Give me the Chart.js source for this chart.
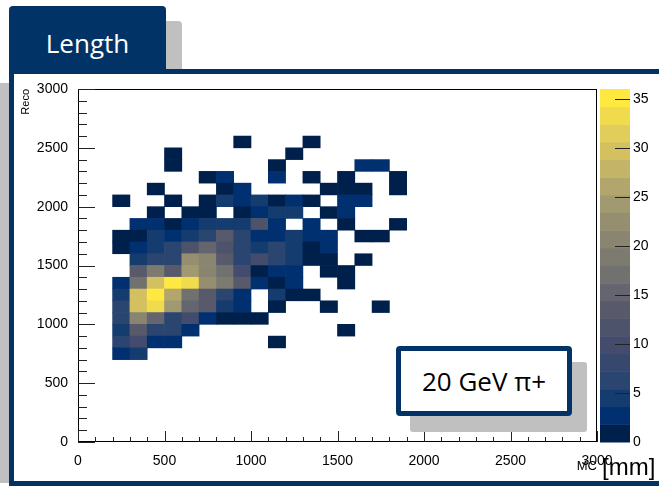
<!DOCTYPE html>
<html>
<head>
<meta charset="utf-8">
<script src="https://cdn.jsdelivr.net/npm/chart.js@4.4.0/dist/chart.umd.min.js"></script>
<style>
  html, body { margin: 0; padding: 0; background: #fff; }
  body { position: relative; width: 659px; height: 493px; overflow: hidden; }
  .abs { position: absolute; box-sizing: border-box; }
  #tabShadow { left: 25px; top: 21px; width: 157px; height: 60px; background: #c0c0c0; border-radius: 4px 4px 0 0; }
  #tab { left: 9px; top: 6px; width: 157px; height: 66px; background: #023366; border-radius: 4px 4px 0 0;
         color: #fff; font: 26px "Open Sans", sans-serif; text-align: center; line-height: 74px; }
  #frameShadow { left: 0; top: 83px; width: 9px; height: 400px; background: #c0c0c0; }
  #frame { left: 9px; top: 69px; width: 700px; height: 417px; border: 5px solid #023366; background: #fff; }
  #chart { position: absolute; left: 0; top: 0; }
  #boxShadow { left: 410px; top: 362px; width: 177px; height: 70px; background: #c0c0c0; border-radius: 3px; }
  #box { left: 396px; top: 346px; width: 176px; height: 70px; border: 5px solid #023366; border-radius: 4px; background: #fff;
         font: 26px "Open Sans", sans-serif; color: #000; text-align: center; line-height: 60px; }
  #unit { left: 602px; top: 453px; font: 24px "Liberation Sans", Arial, sans-serif; color: #000; line-height: 28px; }
</style>
</head>
<body>
<div id="tabShadow" class="abs"></div>
<div id="tab" class="abs">Length</div>
<div id="frameShadow" class="abs"></div>
<div id="frame" class="abs"></div>
<canvas id="chart" width="659" height="493"></canvas>
<div id="boxShadow" class="abs"></div>
<div id="box" class="abs">20 GeV π+</div>
<div id="unit" class="abs">[mm]</div>
<script>
// 2D histogram: MC length (x) vs reco length (y), 100 mm bins
const xCenters = [250, 350, 450, 550, 650, 750, 850, 950, 1050, 1150, 1250, 1350, 1450, 1550, 1650, 1750, 1850];
const yCenters = [2550, 2450, 2350, 2250, 2150, 2050, 1950, 1850, 1750, 1650, 1550, 1450, 1350, 1250, 1150, 1050, 950, 850, 750];
// one row per y bin (top to bottom), one entry per x bin
const counts = [
  [0, 0, 0, 0, 0, 0, 0, 1, 0, 0, 0, 1, 0, 0, 0, 0, 0],
  [0, 0, 0, 1, 0, 0, 0, 0, 0, 0, 1, 0, 0, 0, 0, 0, 0],
  [0, 0, 0, 1, 0, 0, 0, 0, 0, 1, 0, 0, 0, 0, 3, 3, 0],
  [0, 0, 0, 0, 0, 1, 3, 0, 0, 3, 0, 1, 0, 1, 0, 0, 1],
  [0, 0, 1, 0, 0, 0, 1, 2, 0, 0, 0, 0, 1, 1, 1, 0, 1],
  [1, 0, 0, 1, 0, 1, 5, 3, 5, 1, 3, 1, 0, 3, 3, 0, 0],
  [0, 0, 1, 0, 1, 1, 0, 1, 3, 5, 5, 0, 1, 3, 0, 0, 0],
  [0, 3, 3, 1, 3, 5, 5, 5, 12, 3, 0, 3, 0, 1, 0, 0, 1],
  [1, 1, 5, 3, 5, 7, 14, 7, 3, 3, 5, 2, 3, 0, 1, 1, 0],
  [1, 3, 5, 7, 12, 16, 12, 7, 5, 7, 5, 1, 3, 0, 0, 0, 0],
  [0, 5, 7, 7, 23, 21, 13, 7, 10, 7, 5, 1, 1, 0, 1, 0, 0],
  [0, 14, 18, 13, 25, 21, 17, 10, 1, 3, 3, 0, 1, 1, 0, 0, 0],
  [3, 17, 30, 36, 33, 23, 18, 13, 3, 1, 3, 0, 0, 1, 0, 0, 0],
  [5, 30, 35, 26, 17, 13, 7, 3, 0, 5, 1, 1, 0, 0, 0, 0, 0],
  [7, 30, 33, 25, 16, 13, 5, 3, 0, 1, 0, 0, 1, 0, 0, 1, 0],
  [7, 20, 16, 7, 10, 3, 1, 1, 1, 0, 0, 0, 0, 0, 0, 0, 0],
  [5, 13, 7, 7, 3, 0, 0, 0, 0, 0, 0, 0, 0, 1, 0, 0, 0],
  [7, 10, 2, 2, 0, 0, 0, 0, 0, 1, 0, 0, 0, 0, 0, 0, 0],
  [3, 5, 0, 0, 0, 0, 0, 0, 0, 0, 0, 0, 0, 0, 0, 0, 0]
];
const xTicks = [0, 500, 1000, 1500, 2000, 2500, 3000];
const yTicks = [0, 500, 1000, 1500, 2000, 2500, 3000];
const zTicks = [0, 5, 10, 15, 20, 25, 30, 35];
const zMax = 36;
const nLevels = 20;
const binW = 100;

// cividis-like palette stops
const stops = [
  [0.00, [0, 32, 76]], [0.053, [0, 48, 112]], [0.105, [20, 60, 110]], [0.16, [42, 69, 112]],
  [0.21, [54, 72, 110]], [0.26, [66, 76, 108]], [0.37, [88, 90, 107]], [0.47, [112, 112, 112]],
  [0.58, [138, 133, 112]], [0.68, [160, 152, 112]], [0.79, [196, 180, 104]], [0.89, [224, 204, 90]],
  [1.00, [255, 232, 64]]
];
function palette(t) {
  for (let i = 1; i < stops.length; i++) {
    if (t <= stops[i][0]) {
      const [t0, c0] = stops[i - 1], [t1, c1] = stops[i];
      const f = (t - t0) / (t1 - t0);
      const c = c0.map((v, k) => Math.round(v + (c1[k] - v) * f));
      return `rgb(${c[0]},${c[1]},${c[2]})`;
    }
  }
  return 'rgb(255,232,64)';
}
function levelColor(k) { return palette(k / (nLevels - 1)); }
function cellColor(v) {
  const k = Math.min(nLevels - 1, Math.floor(v / zMax * nLevels));
  return levelColor(k);
}

const cells = [];
counts.forEach((row, r) => row.forEach((v, c) => {
  if (v > 0) cells.push({ x: xCenters[c], y: [yCenters[r] - binW / 2, yCenters[r] + binW / 2], v });
}));

const histFrame = {
  id: 'histFrame',
  afterDatasetsDraw(chart) {
    const { ctx, chartArea: a, scales: { x, y, z } } = chart;
    ctx.save();
    // colour bar
    const cbL = a.right + 3, cbW = 30;
    for (let k = 0; k < nLevels; k++) {
      const y0 = z.getPixelForValue(k * zMax / nLevels);
      const y1 = z.getPixelForValue((k + 1) * zMax / nLevels);
      ctx.fillStyle = levelColor(k);
      ctx.fillRect(cbL, y1, cbW, y0 - y1 + 0.5);
    }
    ctx.strokeStyle = '#222';
    ctx.lineWidth = 1;
    zTicks.forEach(v => {
      if (v === 0) return;
      const py = Math.round(z.getPixelForValue(v)) + 0.5;
      ctx.beginPath(); ctx.moveTo(cbL + cbW - 15, py); ctx.lineTo(cbL + cbW, py); ctx.stroke();
    });
    // frame
    ctx.strokeStyle = '#000';
    ctx.strokeRect(a.left + 0.5, a.top + 0.5, a.right - a.left - 1, a.bottom - a.top - 1);
    // axis ticks, drawn inside the frame
    ctx.strokeStyle = '#222';
    for (let v = 0; v <= 3000; v += 100) {
      const major = v % 500 === 0;
      const px = Math.round(x.getPixelForValue(v)) + 0.5;
      ctx.beginPath(); ctx.moveTo(px, a.bottom); ctx.lineTo(px, a.bottom - (major ? 11 : 5)); ctx.stroke();
      const py = Math.round(y.getPixelForValue(v)) + 0.5;
      ctx.beginPath(); ctx.moveTo(a.left, py); ctx.lineTo(a.left + (major ? 17 : 9), py); ctx.stroke();
    }
    ctx.restore();
  }
};

const fam = "'Liberation Sans', Arial, sans-serif";
const tickFont = { family: fam, size: 14 };
const plain = v => String(v);

new Chart(document.getElementById('chart'), {
  type: 'bar',
  data: {
    datasets: [{
      data: cells,
      yAxisID: 'y',
      backgroundColor: c => cellColor(c.raw.v),
      borderWidth: 0,
      categoryPercentage: 1,
      barPercentage: 1
    }]
  },
  options: {
    responsive: false,
    animation: false,
    devicePixelRatio: 1,
    layout: { padding: { left: 16, top: 89, right: 2, bottom: 14 } },
    plugins: { legend: { display: false }, tooltip: { enabled: false } },
    scales: {
      x: {
        type: 'linear', min: 0, max: 3000, offset: false,
        grid: { display: false, offset: false }, border: { display: false },
        afterBuildTicks: s => { s.ticks = xTicks.map(v => ({ value: v })); },
        afterFit: s => { s.height = 37; },
        ticks: { color: '#000', font: tickFont, padding: 3, maxRotation: 0, autoSkip: false, callback: plain },
        title: { display: true, text: 'MC', align: 'end', color: '#000',
                 font: { family: fam, size: 13 }, padding: { top: 0, bottom: 5 } }
      },
      y: {
        type: 'linear', min: 0, max: 3000,
        grid: { display: false }, border: { display: false },
        afterBuildTicks: s => { s.ticks = yTicks.map(v => ({ value: v })); },
        afterFit: s => { s.width = 62; },
        ticks: { color: '#000', font: tickFont, padding: 2, autoSkip: false, callback: plain },
        title: { display: true, text: 'Reco', align: 'end', color: '#000',
                 font: { family: fam, size: 11 }, padding: { top: 3, bottom: 0 } }
      },
      z: {
        type: 'linear', axis: 'y', position: 'right', min: 0, max: zMax,
        grid: { display: false, drawTicks: false }, border: { display: false },
        afterBuildTicks: s => { s.ticks = zTicks.map(v => ({ value: v })); },
        afterFit: s => { s.width = 60; },
        ticks: { color: '#000', font: tickFont, padding: 36, autoSkip: false, callback: plain }
      }
    }
  },
  plugins: [histFrame]
});
</script>
</body>
</html>
